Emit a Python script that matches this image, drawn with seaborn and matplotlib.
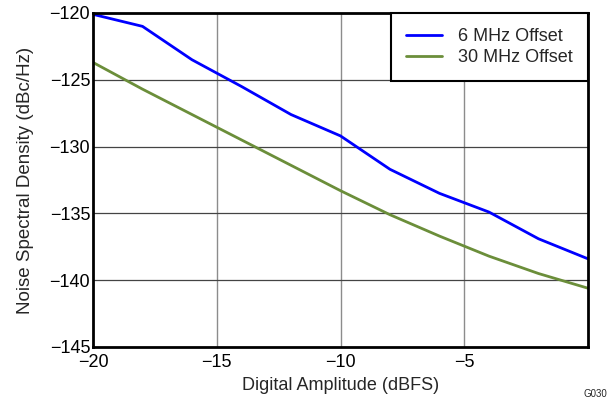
import numpy as np
import pandas as pd
import matplotlib
matplotlib.use("Agg")
import matplotlib.pyplot as plt
import seaborn as sns

# digital amplitude (dBFS)
amplitude = [-20, -18, -16, -14, -12, -10, -8, -6, -4, -2, 0]
# noise spectral density (dBc/Hz)
nsd_6mhz = [-120.1, -121.0, -123.5, -125.5, -127.6, -129.2, -131.7, -133.5, -134.9, -136.9, -138.4]
nsd_30mhz = [-123.7, -125.7, -127.6, -129.5, -131.4, -133.3, -135.1, -136.7, -138.2, -139.5, -140.6]
series_names = ["6 MHz Offset", "30 MHz Offset"]

df = pd.DataFrame({
    "amp": amplitude * 2,
    "nsd": nsd_6mhz + nsd_30mhz,
    "series": [series_names[0]] * len(amplitude) + [series_names[1]] * len(amplitude),
})

sns.set_style("white")
plt.rcParams['font.family'] = ['Liberation Sans', 'DejaVu Sans']

fig = plt.figure(figsize=(6.08, 4.03), dpi=100)
ax = fig.add_axes([93 / 608, 1 - 347 / 403, (588 - 93) / 608, (347 - 13) / 403])

sns.lineplot(data=df, x="amp", y="nsd", hue="series",
             palette=["#0000ff", "#6b8e3a"], linewidth=2, ax=ax)

ax.set_xlim(-20, 0)
ax.set_ylim(-145, -120)
ax.set_xticks([-20, -15, -10, -5])
ax.set_xticklabels(["\u221220", "\u221215", "\u221210", "\u22125"])
ax.set_yticks([-145, -140, -135, -130, -125, -120])
ax.set_yticklabels(["\u2212145", "\u2212140", "\u2212135", "\u2212130", "\u2212125", "\u2212120"])
ax.tick_params(length=0, labelsize=13, colors="black")
ax.tick_params(axis="x", pad=5)
ax.tick_params(axis="y", pad=2)

# grid lines: vertical lighter, horizontal darker
for xv in [-15, -10, -5]:
    ax.axvline(xv, color="#8c8c8c", linewidth=1, zorder=0)
for yv in [-140, -135, -130, -125]:
    ax.axhline(yv, color="#444444", linewidth=0.9, zorder=0)

for s in ax.spines.values():
    s.set_linewidth(2)
    s.set_color("black")

ax.set_xlabel("Digital Amplitude (dBFS)", fontsize=13, labelpad=4)
ax.set_ylabel("Noise Spectral Density (dBc/Hz)", fontsize=13.5, labelpad=11)

leg = ax.legend(loc="upper right", fontsize=13, frameon=True, fancybox=False,
                borderaxespad=0, handlelength=1.95, handletextpad=0.9,
                borderpad=0.85, labelspacing=0.2)
leg.get_frame().set_edgecolor("black")
leg.get_frame().set_linewidth(1.5)
leg.get_frame().set_alpha(1)

fig.text(607 / 608, 1 - 394 / 403, "G030", fontsize=7, va="center", ha="right")

fig.savefig("out.png", dpi=100)
